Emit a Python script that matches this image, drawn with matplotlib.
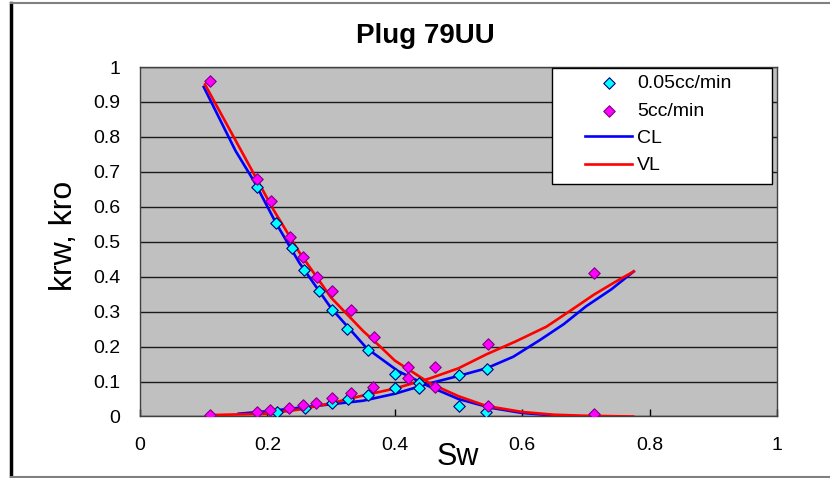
import matplotlib.pyplot as plt
from matplotlib.lines import Line2D
from matplotlib.patches import Rectangle

plt.rcParams['font.family'] = ['Liberation Sans', 'DejaVu Sans']

# 0.05cc/min measurements (kro branch, krw branch)
slow_kro_x = [0.183, 0.213, 0.238, 0.258, 0.281, 0.301, 0.325, 0.358, 0.40, 0.438, 0.50, 0.543]
slow_kro_y = [0.656, 0.555, 0.482, 0.418, 0.358, 0.305, 0.251, 0.19, 0.122, 0.095, 0.031, 0.012]
slow_krw_x = [0.215, 0.259, 0.301, 0.326, 0.358, 0.40, 0.438, 0.50, 0.544]
slow_krw_y = [0.014, 0.023, 0.04, 0.049, 0.062, 0.081, 0.081, 0.119, 0.135]

# 5cc/min measurements
fast_kro_x = [0.11, 0.183, 0.205, 0.235, 0.256, 0.278, 0.301, 0.331, 0.368, 0.421, 0.463, 0.546, 0.713]
fast_kro_y = [0.96, 0.68, 0.618, 0.513, 0.456, 0.40, 0.358, 0.305, 0.227, 0.141, 0.085, 0.031, 0.006]
fast_krw_x = [0.11, 0.183, 0.204, 0.234, 0.256, 0.277, 0.301, 0.331, 0.366, 0.421, 0.463, 0.546, 0.713]
fast_krw_y = [0.005, 0.012, 0.019, 0.025, 0.033, 0.04, 0.052, 0.066, 0.085, 0.109, 0.141, 0.207, 0.412]

# CL curves
cl_kro_x = [0.10, 0.15, 0.18, 0.213, 0.25, 0.30, 0.356, 0.405, 0.455, 0.50, 0.55, 0.60, 0.65, 0.68]
cl_kro_y = [0.943, 0.76, 0.67, 0.555, 0.44, 0.31, 0.195, 0.13, 0.085, 0.05, 0.025, 0.01, 0.003, 0.0]
cl_krw_x = [0.155, 0.20, 0.25, 0.30, 0.35, 0.40, 0.455, 0.50, 0.544, 0.586, 0.628, 0.665, 0.70, 0.74, 0.775]
cl_krw_y = [0.008, 0.015, 0.025, 0.035, 0.045, 0.065, 0.095, 0.116, 0.138, 0.171, 0.219, 0.264, 0.315, 0.364, 0.415]

# VL curves
vl_kro_x = [0.102, 0.15, 0.18, 0.21, 0.25, 0.30, 0.35, 0.377, 0.40, 0.455, 0.50, 0.544, 0.60, 0.65, 0.70, 0.774]
vl_kro_y = [0.95, 0.79, 0.69, 0.59, 0.47, 0.34, 0.245, 0.20, 0.16, 0.095, 0.058, 0.03, 0.013, 0.005, 0.002, 0.0]
vl_krw_x = [0.11, 0.20, 0.25, 0.30, 0.35, 0.40, 0.455, 0.50, 0.544, 0.59, 0.638, 0.675, 0.712, 0.745, 0.775]
vl_krw_y = [0.004, 0.008, 0.02, 0.038, 0.06, 0.08, 0.109, 0.138, 0.178, 0.215, 0.257, 0.302, 0.348, 0.384, 0.415]

fig = plt.figure(figsize=(8.3, 4.78), dpi=100)
ax = fig.add_axes([0.1687, 0.1287, 0.7675, 0.7311])
ax.set_facecolor('#C0C0C0')

ax.plot(cl_kro_x, cl_kro_y, color='#0000FF', lw=1.9, label='CL', zorder=3)
ax.plot(cl_krw_x, cl_krw_y, color='#0000FF', lw=1.9, zorder=3)
ax.plot(vl_kro_x, vl_kro_y, color='#FF0000', lw=1.9, label='VL', zorder=3)
ax.plot(vl_krw_x, vl_krw_y, color='#FF0000', lw=1.9, zorder=3)

mk = dict(marker='D', s=34, linewidths=0.8, zorder=4)
ax.scatter(slow_kro_x + slow_krw_x, slow_kro_y + slow_krw_y, c='#00FFFF',
           edgecolors='#000080', label='0.05cc/min', **mk)
ax.scatter(fast_kro_x + fast_krw_x, fast_kro_y + fast_krw_y, c='#FF00FF',
           edgecolors='#800080', label='5cc/min', **mk)

ax.set_xlim(0, 1)
ax.set_ylim(0, 1)
ax.set_xticks([0, 0.2, 0.4, 0.6, 0.8, 1])
ax.set_xticklabels(['0', '0.2', '0.4', '0.6', '0.8', '1'])
ax.set_yticks([i / 10 for i in range(11)])
ax.set_yticklabels(['0', '0.1', '0.2', '0.3', '0.4', '0.5', '0.6', '0.7', '0.8', '0.9', '1'])
ax.tick_params(axis='x', direction='in', length=5, width=1, pad=15, labelsize=14)
ax.tick_params(axis='y', length=0, pad=14, labelsize=14)
ax.yaxis.grid(True, color='#1a1a1a', lw=1.0)
ax.set_axisbelow(True)
for s in ax.spines.values():
    s.set_color('#404040')
    s.set_linewidth(1.0)

fig.text(0.552, 0.044, 'Sw', ha='center', va='center', fontsize=22)
fig.text(0.077, 0.506, 'krw, kro', ha='center', va='center', rotation=90, fontsize=23)
fig.text(0.512, 0.910, 'Plug 79UU', ha='center', va='baseline', fontsize=20, fontweight='bold')

# legend box, then entries without their own frame
box = Rectangle((0.647, 0.666), 0.345, 0.33, transform=ax.transAxes,
                facecolor='white', edgecolor='black', lw=1.0, zorder=5)
ax.add_patch(box)
h, l = ax.get_legend_handles_labels()
order = [2, 3, 0, 1]
leg = ax.legend([h[i] for i in order], [l[i] for i in order], loc='upper left',
                bbox_to_anchor=(0.699, 0.978), frameon=False, fontsize=14,
                borderpad=0, borderaxespad=0, labelspacing=0.5,
                handlelength=2.4, handletextpad=0.25, scatterpoints=1)
leg.set_zorder(6)

# chart area border
fig.add_artist(Line2D([0.013, 0.013], [0, 0.994], color='black', lw=2.5, transform=fig.transFigure))
fig.add_artist(Line2D([0.013, 1.0], [0.994, 0.994], color='#808080', lw=1.5, transform=fig.transFigure))
fig.add_artist(Line2D([0.013, 1.0], [0.003, 0.003], color='#808080', lw=1.5, transform=fig.transFigure))

fig.savefig('out.png', dpi=100)
